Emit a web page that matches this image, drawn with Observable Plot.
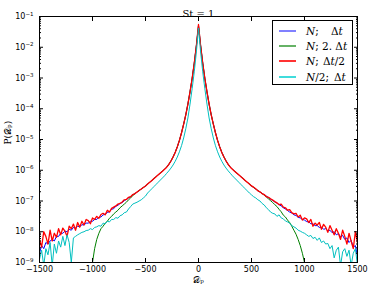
<!DOCTYPE html>
<html><head><meta charset="utf-8">
<script src="https://cdn.jsdelivr.net/npm/d3@7"></script>
<script src="https://cdn.jsdelivr.net/npm/@observablehq/plot@0.6"></script>
<style>
html,body{margin:0;padding:0;background:#fff;}
#wrap{position:relative;width:374px;height:293px;overflow:hidden;}
#legend{position:absolute;left:272px;top:20px;width:79px;height:63px;border:1px solid #000;background:#fff;font-family:"DejaVu Serif",serif;font-size:10.5px;color:#000;}
.row{position:absolute;left:0;width:79px;height:14px;}
.hd{position:absolute;left:6px;width:17px;height:2px;top:6px;}
.p1,.p2{position:absolute;top:0;line-height:14px;white-space:pre;}
.p1{left:33px;}
</style></head><body><div id="wrap"></div>
<script>
// bin centres of the histogram (D_p), every 20 units from -1500 to 1500
const binCenters = d3.range(-1500, 1501, 20);

// log10 P(D_p)
const logP_N_dt = [
-8.7,-8.45,-8.55,-8.35,-8.4,-8.3,-8.25,-8.3,-8.15,-8.15,
-8.05,-8.05,-7.98,-8.0,-7.92,-7.95,-7.86,-7.88,-7.82,-7.84,
-7.77,-7.78,-7.72,-7.72,-7.66,-7.66,-7.6,-7.6,-7.53,-7.52,
-7.45,-7.44,-7.37,-7.35,-7.27,-7.25,-7.17,-7.14,-7.08,-7.05,
-6.99,-6.95,-6.9,-6.86,-6.8,-6.76,-6.71,-6.66,-6.61,-6.56,
-6.51,-6.45,-6.39,-6.33,-6.27,-6.21,-6.15,-6.09,-6.03,-5.97,
-5.9,-5.81,-5.7,-5.57,-5.42,-5.24,-5.03,-4.78,-4.5,-4.2,
-3.85,-3.45,-3.02,-2.52,-1.95,
-1.3,
-1.95,-2.52,-3.02,-3.45,-3.85,
-4.2,-4.5,-4.78,-5.03,-5.24,-5.42,-5.57,-5.7,-5.81,-5.9,
-5.97,-6.03,-6.09,-6.15,-6.21,-6.27,-6.33,-6.39,-6.45,-6.51,
-6.56,-6.61,-6.66,-6.71,-6.75,-6.8,-6.84,-6.89,-6.94,-6.98,
-7.03,-7.07,-7.12,-7.16,-7.22,-7.26,-7.31,-7.36,-7.39,-7.45,
-7.47,-7.53,-7.55,-7.6,-7.62,-7.67,-7.68,-7.74,-7.74,-7.8,
-7.8,-7.86,-7.85,-7.92,-7.9,-7.97,-7.95,-8.03,-8.0,-8.1,
-8.06,-8.17,-8.12,-8.25,-8.2,-8.35,-8.28,-8.5,-8.45,-8.8
];
const logP_N_2dt = [
NaN,NaN,NaN,NaN,NaN,NaN,NaN,NaN,NaN,NaN,
NaN,NaN,NaN,NaN,NaN,NaN,NaN,NaN,NaN,NaN,
NaN,NaN,NaN,NaN,NaN,-9.0,-8.55,-8.25,-8.05,-7.9,
-7.82,-7.72,-7.66,-7.56,-7.5,-7.42,-7.36,-7.3,-7.22,-7.16,
-7.1,-7.04,-6.96,-6.9,-6.82,-6.77,-6.71,-6.66,-6.61,-6.56,
-6.51,-6.45,-6.39,-6.33,-6.27,-6.21,-6.15,-6.09,-6.03,-5.97,
-5.9,-5.81,-5.7,-5.57,-5.42,-5.24,-5.03,-4.78,-4.5,-4.2,
-3.85,-3.45,-3.02,-2.52,-1.95,
-1.3,
-1.95,-2.52,-3.02,-3.45,-3.85,
-4.2,-4.5,-4.78,-5.03,-5.24,-5.42,-5.57,-5.7,-5.81,-5.9,
-5.97,-6.03,-6.09,-6.15,-6.21,-6.27,-6.33,-6.39,-6.45,-6.51,
-6.56,-6.61,-6.66,-6.71,-6.76,-6.81,-6.87,-6.93,-6.99,-7.05,
-7.12,-7.18,-7.27,-7.35,-7.46,-7.52,-7.62,-7.7,-7.82,-7.95,
-8.08,-8.25,-8.45,-8.7,-9.0,NaN,NaN,NaN,NaN,NaN,
NaN,NaN,NaN,NaN,NaN,NaN,NaN,NaN,NaN,NaN,
NaN,NaN,NaN,NaN,NaN,NaN,NaN,NaN,NaN,NaN
];
const logP_N_halfdt = [
-8.25,-8.5,-8.0,-8.15,-8.4,-7.95,-8.3,-8.05,-8.18,-7.9,
-8.1,-7.88,-7.98,-8.15,-7.82,-7.9,-7.75,-7.95,-7.7,-7.85,
-7.66,-7.78,-7.6,-7.64,-7.74,-7.55,-7.6,-7.5,-7.56,-7.44,
-7.4,-7.45,-7.3,-7.36,-7.24,-7.2,-7.16,-7.1,-7.08,-7.03,
-6.96,-6.95,-6.88,-6.86,-6.79,-6.76,-6.71,-6.66,-6.61,-6.56,
-6.51,-6.45,-6.39,-6.33,-6.27,-6.21,-6.15,-6.09,-6.03,-5.97,
-5.9,-5.81,-5.7,-5.57,-5.42,-5.24,-5.03,-4.78,-4.5,-4.2,
-3.85,-3.45,-3.02,-2.52,-1.95,
-1.26,
-1.95,-2.52,-3.02,-3.45,-3.85,
-4.2,-4.5,-4.78,-5.03,-5.24,-5.42,-5.57,-5.7,-5.81,-5.9,
-5.97,-6.03,-6.09,-6.15,-6.21,-6.27,-6.33,-6.39,-6.45,-6.51,
-6.55,-6.6,-6.67,-6.7,-6.76,-6.79,-6.86,-6.88,-6.93,-6.97,
-7.02,-7.06,-7.12,-7.1,-7.2,-7.22,-7.3,-7.28,-7.38,-7.42,
-7.4,-7.52,-7.46,-7.62,-7.55,-7.58,-7.7,-7.6,-7.82,-7.72,
-7.78,-7.7,-7.92,-7.76,-7.85,-8.02,-7.8,-7.95,-8.1,-7.9,
-8.05,-8.25,-7.95,-8.15,-8.4,-8.05,-8.3,-8.55,-8.0,-8.35
];
const logP_halfN_dt = [
-8.9,-8.6,-9.1,-8.55,-8.75,-8.35,-9.1,-8.4,-8.7,-8.3,
-8.5,-8.15,-8.45,-8.1,-8.35,-9.0,-8.2,-8.15,-8.1,-8.06,
-8.02,-8.0,-7.96,-7.95,-7.9,-7.93,-7.86,-7.84,-7.8,-7.82,
-7.72,-7.74,-7.66,-7.68,-7.6,-7.6,-7.54,-7.56,-7.48,-7.45,
-7.38,-7.36,-7.26,-7.18,-7.1,-7.07,-7.04,-7.0,-6.96,-6.9,
-6.84,-6.74,-6.67,-6.6,-6.53,-6.46,-6.39,-6.32,-6.25,-6.18,
-6.1,-6.02,-5.93,-5.83,-5.71,-5.57,-5.4,-5.2,-4.95,-4.65,
-4.3,-3.85,-3.35,-2.8,-2.15,
-1.38,
-2.15,-2.8,-3.35,-3.85,-4.3,
-4.65,-4.95,-5.2,-5.4,-5.57,-5.71,-5.83,-5.93,-6.02,-6.1,
-6.18,-6.25,-6.32,-6.39,-6.46,-6.53,-6.6,-6.67,-6.74,-6.8,
-6.86,-6.9,-6.96,-7.0,-7.08,-7.13,-7.22,-7.28,-7.36,-7.4,
-7.42,-7.5,-7.45,-7.55,-7.58,-7.65,-7.68,-7.72,-7.8,-7.84,
-7.88,-7.95,-7.98,-8.02,-8.05,-8.1,-8.15,-8.12,-8.22,-8.18,
-8.28,-8.2,-8.35,-8.3,-8.4,-8.38,-8.55,-8.45,-8.85,-8.6,
-8.5,-9.1,-8.65,-8.55,-8.8,-8.6,-9.1,-8.7,-8.55,-9.1
];

const seriesNames = ["N;  Δt", "N;  2. Δt", "N;  Δt/2", "N/2;  Δt"];
const legendPart1 = ["<i>N</i>;", "<i>N</i>;", "<i>N</i>;", "<i>N</i>/2;"];
const legendPart2 = ["Δ<i>t</i>", "2. Δ<i>t</i>", "Δ<i>t</i>/2", "Δ<i>t</i>"];
const seriesLogs = [logP_N_dt, logP_N_2dt, logP_N_halfdt, logP_halfN_dt];
const seriesColors = ["#0000ff", "#008000", "#ff0000", "#00bfbf"];
const seriesWidths = [1, 1, 1.3, 1];
const legendColors = ["#8080ff", "#66b266", "#ff3333", "#40dcdc"];
const legendPart2Left = [58, 49, 50, 61];
const legendRowTops = [3, 18, 33, 49];

const xTicks = [-1500, -1000, -500, 0, 500, 1000, 1500];
const xTickLabels = ["−1500", "−1000", "−500", "0", "500", "1000", "1500"];
const yTicks = [1e-9, 1e-8, 1e-7, 1e-6, 1e-5, 1e-4, 1e-3, 1e-2, 1e-1];
const yTickExponents = ["−9", "−8", "−7", "−6", "−5", "−4", "−3", "−2", "−1"];
const yMinorTicks = [];
for (const e of yTicks.slice(0, -1)) for (let m = 2; m <= 9; m++) yMinorTicks.push(m * e);

const titleText = "St = 1";
const xLabel = "𝒟ₚ";
const yLabel = "P(𝒟ₚ)";

const series = seriesLogs.map((arr, s) =>
  binCenters.map((d, i) => ({D: d, P: Number.isNaN(arr[i]) ? NaN : Math.pow(10, arr[i]), s}))
);

const chart = Plot.plot({
  width: 374, height: 293,
  marginLeft: 39, marginRight: 17, marginTop: 16, marginBottom: 31,
  style: {fontFamily: "DejaVu Sans", fontSize: "8px", color: "#000", background: "transparent", overflow: "visible"},
  x: {domain: [-1500, 1500]},
  y: {type: "log", domain: [1e-9, 1e-1]},
  marks: [
    ...series.map((data, s) => Plot.line(data, {x: "D", y: "P", stroke: seriesColors[s], strokeWidth: seriesWidths[s], clip: true})),
    Plot.frame({stroke: "#000", strokeWidth: 1}),
    Plot.axisX({anchor: "bottom", ticks: xTicks, tickSize: -4, tickPadding: 8, tickFormat: d => xTickLabels[xTicks.indexOf(d)], label: null}),
    Plot.axisX({anchor: "top", ticks: xTicks, tickSize: -4, tickFormat: () => "", label: null}),
    Plot.axisY({anchor: "left", ticks: yTicks, tickSize: -4, tickPadding: 10, tickFormat: d => "10^" + yTickExponents[yTicks.indexOf(d)], label: null}),
    Plot.axisY({anchor: "left", ticks: yMinorTicks, tickSize: -2, tickFormat: () => "", label: null}),
    Plot.axisY({anchor: "right", ticks: yTicks, tickSize: -4, tickFormat: () => "", label: null}),
    Plot.axisY({anchor: "right", ticks: yMinorTicks, tickSize: -2, tickFormat: () => "", label: null}),
    Plot.text([titleText], {text: d => d, frameAnchor: "top", dy: -7, fontFamily: "DejaVu Serif", fontSize: 10, ariaLabel: "title"}),
    Plot.text([xLabel], {text: d => d, frameAnchor: "bottom", dy: 20, fontFamily: "DejaVu Serif", fontSize: 9, ariaLabel: "xlabel"}),
    Plot.text([yLabel], {text: d => d, frameAnchor: "left", dx: -31, dy: 5, rotate: -90, fontFamily: "DejaVu Serif", fontSize: 9, ariaLabel: "ylabel"})
  ]
});

// math-style texts: italics and superscript exponents
d3.select(chart).select('g[aria-label="title"] text').html('<tspan font-style="italic">St</tspan> = 1');
d3.select(chart).select('g[aria-label="ylabel"] text').html('<tspan font-style="italic">P</tspan>(𝒟ₚ)');
d3.select(chart).selectAll('text').each(function() {
  const t = this.textContent;
  if (/^10\^/.test(t)) {
    const ex = t.slice(3);
    d3.select(this).html(`10<tspan dy="-3.5" font-size="5.5px">${ex}</tspan>`);
  }
});

const wrap = document.getElementById("wrap");
wrap.appendChild(chart);

const legend = document.createElement("div");
legend.id = "legend";
seriesNames.forEach((name, s) => {
  const row = document.createElement("div");
  row.className = "row";
  row.style.top = legendRowTops[s] + "px";
  row.innerHTML = `<div class="hd" style="background:${legendColors[s]}"></div><span class="p1">${legendPart1[s]}</span><span class="p2" style="left:${legendPart2Left[s]}px">${legendPart2[s]}</span>`;
  row.setAttribute("title", name);
  legend.appendChild(row);
});
wrap.appendChild(legend);
</script>
</body></html>
